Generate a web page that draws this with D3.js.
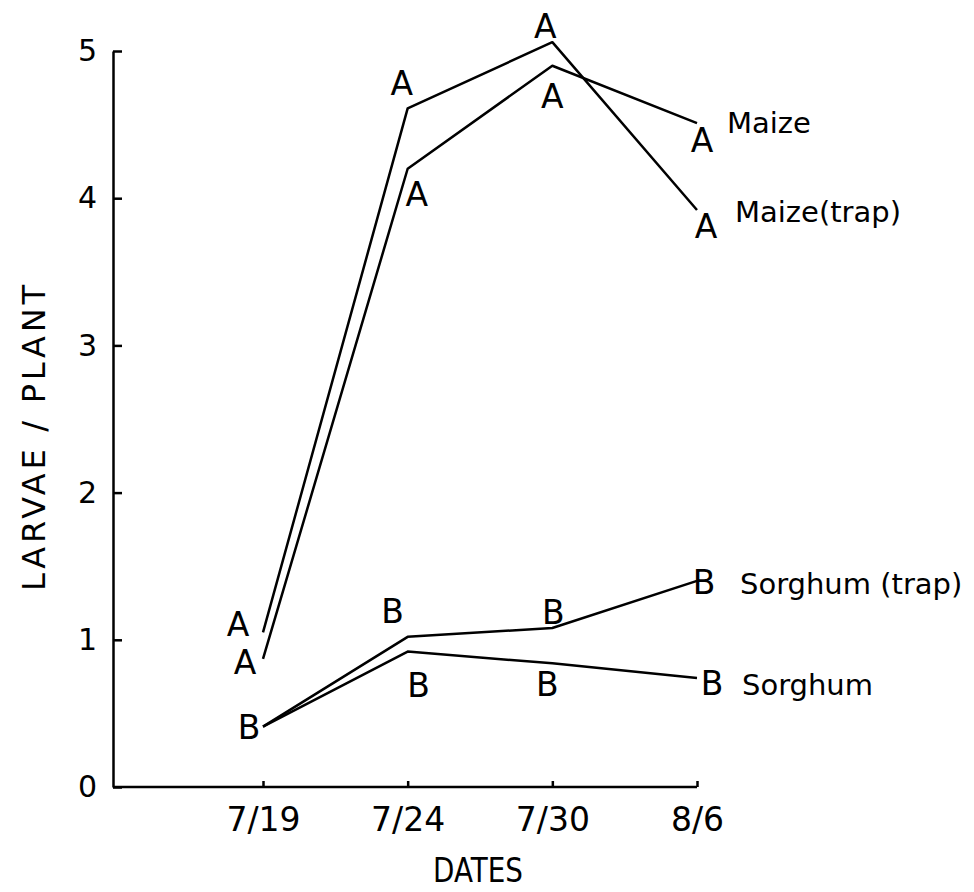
<!DOCTYPE html>
<html>
<head>
<meta charset="utf-8">
<script src="https://cdn.jsdelivr.net/npm/d3@7"></script>
<style>
  body { margin: 0; background: #fff; }
  text { font-family: "DejaVu Sans", sans-serif; fill: #000; }
</style>
</head>
<body>
<svg id="chart" width="974" height="892"></svg>
<script>
// datoer og verdier (larver per plante)
var dates = ["7/19", "7/24", "7/30", "8/6"];
var maizeTrap = [1.05, 4.61, 5.06, 3.92];
var maize = [0.87, 4.2, 4.9, 4.51];
var sorghumTrap = [0.41, 1.02, 1.08, 1.4];
var sorghum = [0.41, 0.92, 0.84, 0.74];
var yTicks = [0, 1, 2, 3, 4, 5];

var seriesNames = ["Maize(trap)", "Maize", "Sorghum (trap)", "Sorghum"];
var seriesValues = [maizeTrap, maize, sorghumTrap, sorghum];
var seriesLetters = [["A", "A", "A", "A"], ["A", "A", "A", "A"], ["B", "B", "B", "B"], ["B", "B", "B", "B"]];

// plassering av bokstaver (dx, dy fra punktet) og seriens navn
var letterOffsets = [
    [[-25, 4], [-6, -13], [-7, -4], [9, 28]],
    [[-18, 15], [9, 37], [0, 42], [5, 29]],
    [[-14, 12], [-15, -14], [1, -4], [7, 13]],
    [null, [11, 45], [-5, 33], [15, 17]]
];
var nameOffsets = [[38, 12], [30, 10], [43, 13], [45, 17]];

var margin = { top: 51, left: 113 };
var width = 584, height = 736;

var svg = d3.select("#chart");
var g = svg.append("g").attr("transform", "translate(" + margin.left + "," + margin.top + ")");

var x = d3.scalePoint().domain(dates).range([150, width]);
var y = d3.scaleLinear().domain([0, 5]).range([height, 0]);

// akser
var yAxis = g.append("g")
    .call(d3.axisLeft(y).tickValues(yTicks).tickFormat(d3.format("d"))
        .tickSizeInner(-9).tickSizeOuter(0).tickPadding(16));
var xAxis = g.append("g")
    .attr("transform", "translate(0," + height + ")")
    .call(d3.axisBottom(x).tickSizeInner(-6).tickSizeOuter(0).tickPadding(21));

[yAxis, xAxis].forEach(function (ax) {
    ax.attr("font-family", null).attr("font-size", null);
    ax.select(".domain").attr("stroke", "#000").attr("stroke-width", 2.5);
    ax.selectAll(".tick line").attr("stroke", "#000").attr("stroke-width", 2.5);
});
yAxis.selectAll(".tick text").style("font-size", "30px");
xAxis.selectAll(".tick text").style("font-size", "33px");
// x-aksen starter ved y-aksen
xAxis.select(".domain").attr("d", "M0,0H" + width);

// aksetitler
svg.append("text")
    .attr("transform", "translate(45," + 438 + ") rotate(-90)")
    .attr("text-anchor", "middle")
    .attr("textLength", 306)
    .attr("lengthAdjust", "spacing")
    .style("font-size", "32px")
    .text("LARVAE / PLANT");

svg.append("text")
    .attr("x", 478)
    .attr("y", 882)
    .attr("text-anchor", "middle")
    .attr("textLength", 90)
    .attr("lengthAdjust", "spacingAndGlyphs")
    .style("font-size", "34px")
    .text("DATES");

var line = d3.line()
    .x(function (d, i) { return x(dates[i]); })
    .y(function (d) { return y(d); });

seriesValues.forEach(function (vals, s) {
    g.append("path")
        .datum(vals)
        .attr("fill", "none")
        .attr("stroke", "#000")
        .attr("stroke-width", 2.5)
        .attr("stroke-linejoin", "round")
        .attr("d", line);

    vals.forEach(function (v, i) {
        var off = letterOffsets[s][i];
        if (!off) return;
        g.append("text")
            .attr("x", x(dates[i]) + off[0])
            .attr("y", y(v) + off[1])
            .attr("text-anchor", "middle")
            .style("font-size", "33px")
            .text(seriesLetters[s][i]);
    });

    var last = vals.length - 1;
    g.append("text")
        .attr("x", x(dates[last]) + nameOffsets[s][0])
        .attr("y", y(vals[last]) + nameOffsets[s][1])
        .style("font-size", "29px")
        .text(seriesNames[s]);
});
</script>
</body>
</html>
